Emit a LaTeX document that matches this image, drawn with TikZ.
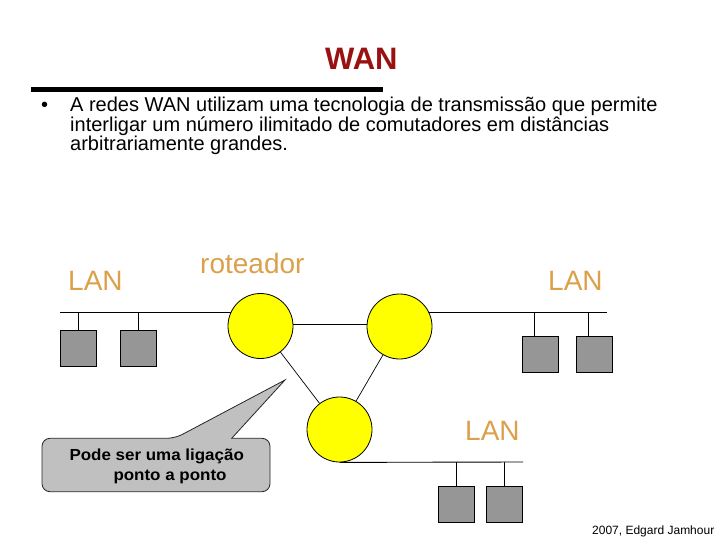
\documentclass[tikz,border=0pt]{standalone}
\usepackage{fontspec}
\setmainfont{Liberation Sans}
\newfontfamily\widebold[FakeStretch=1.06]{Liberation Sans Bold}
\usetikzlibrary{backgrounds}
\definecolor{routeryellow}{RGB}{255,255,0}
\definecolor{hostgray}{RGB}{150,150,150}
\definecolor{lantan}{RGB}{220,160,75}
\definecolor{titlered}{RGB}{153,17,17}
\definecolor{calloutgray}{RGB}{192,192,192}
\tikzset{
  router/.style={circle, draw=black, line width=0.8pt, fill=routeryellow, minimum size=65pt, inner sep=0pt},
  host/.style={rectangle, draw=black, line width=0.8pt, fill=hostgray, minimum size=36pt, inner sep=0pt},
  wire/.style={draw=black, line width=0.9pt},
  lanlabel/.style={anchor=base west, inner sep=0pt, text=lantan, font=\fontsize{28}{32}\selectfont},
  callout/.style={draw=black!85, line width=0.8pt, fill=calloutgray},
  plain/.style={anchor=base west, inner sep=0pt}
}
\begin{document}
\begin{tikzpicture}[x=1pt,y=-1pt]
\begin{scope}[on background layer]
  \fill[white] (0,0) rectangle (720,540);
\end{scope}
\useasboundingbox (0,0) rectangle (720,540);

% header
\node[plain, text=titlered, font=\bfseries\fontsize{31}{34}\selectfont] (title) at (325,69.3) {WAN};
\coordinate (barL) at (31,89.2);
\coordinate (barR) at (383,89.2);
\draw[line width=5pt] (barL) -- (barR);
\node[plain, font=\fontsize{20}{19.7}\selectfont] (bullet) at (41,111.5) {•};
\node[plain, align=left, font=\fontsize{20}{19.7}\selectfont] (body) at (70,150.9)
  {A redes WAN utilizam uma tecnologia de transmissão que permite\\
   interligar um número ilimitado de comutadores em distâncias\\
   arbitrariamente grandes.};

% routers
\node[router] (r1) at (260.5,326) {};
\node[router] (r2) at (399.5,326.5) {};
\node[router] (r3) at (339.5,429.5) {};

% hosts
\node[host] (s1) at (78.5,348) {};
\node[host] (s2) at (138.5,348) {};
\node[host] (s3) at (540.3,354.5) {};
\node[host] (s4) at (594.5,354.5) {};
\node[host] (s5) at (456.3,504.5) {};
\node[host] (s6) at (504,504.5) {};

% LAN segments
\coordinate (lanL) at (60,312);
\coordinate (lanR) at (607,312);
\coordinate (lanB) at (523,462);
\path ([xshift=-6pt]s3.north) coordinate (k3);
\path ([xshift=-6pt]s4.north) coordinate (k4);

\begin{scope}[on background layer]
  \draw[wire] (lanL) -- (lanL -| r1.center);
  \draw[wire] (r2.center |- lanR) -- (lanR);
  \draw[wire] (r3.south) -- (lanB);
\end{scope}

\draw[wire] (s1.north |- lanL) -- (s1.north);
\draw[wire] (s2.north |- lanL) -- (s2.north);
\draw[wire] (k3 |- lanR) -- (k3);
\draw[wire] (k4 |- lanR) -- (k4);
\draw[wire] (s5.north |- lanB) -- (s5.north);
\draw[wire] (s6.north |- lanB) -- (s6.north);

% WAN links
\draw[wire] ([yshift=1.7pt]r1.east) -- ([yshift=2.2pt]r2.west);
\draw[wire, line width=0.7pt] (r1) -- (r3);
\draw[wire, line width=0.7pt] (r2) -- (r3);

% labels
\node[lanlabel] (lan1) at (68,290) {LAN};
\node[lanlabel] (rot) at (200,273) {roteador};
\node[lanlabel] (lan2) at (548,290) {LAN};
\node[lanlabel] (lan3) at (465,440) {LAN};

% callout
\draw[callout] (42,465) [rounded corners=8pt] |- (175,438.3) [sharp corners] -- (285,380) -- (231.7,438.3)
  [rounded corners=8pt] -| (270,491.7) -| (42,465) -- cycle;
\node[plain, align=left, font=\widebold\fontsize{16}{19.3}\selectfont] (note) at (69.3,480)
  {Pode ser uma ligação\\\hspace*{44pt}ponto a ponto};

% credit
\node[plain, font=\fontsize{12}{14}\selectfont] (credit) at (592,534) {2007, Edgard Jamhour};
\end{tikzpicture}
\end{document}
